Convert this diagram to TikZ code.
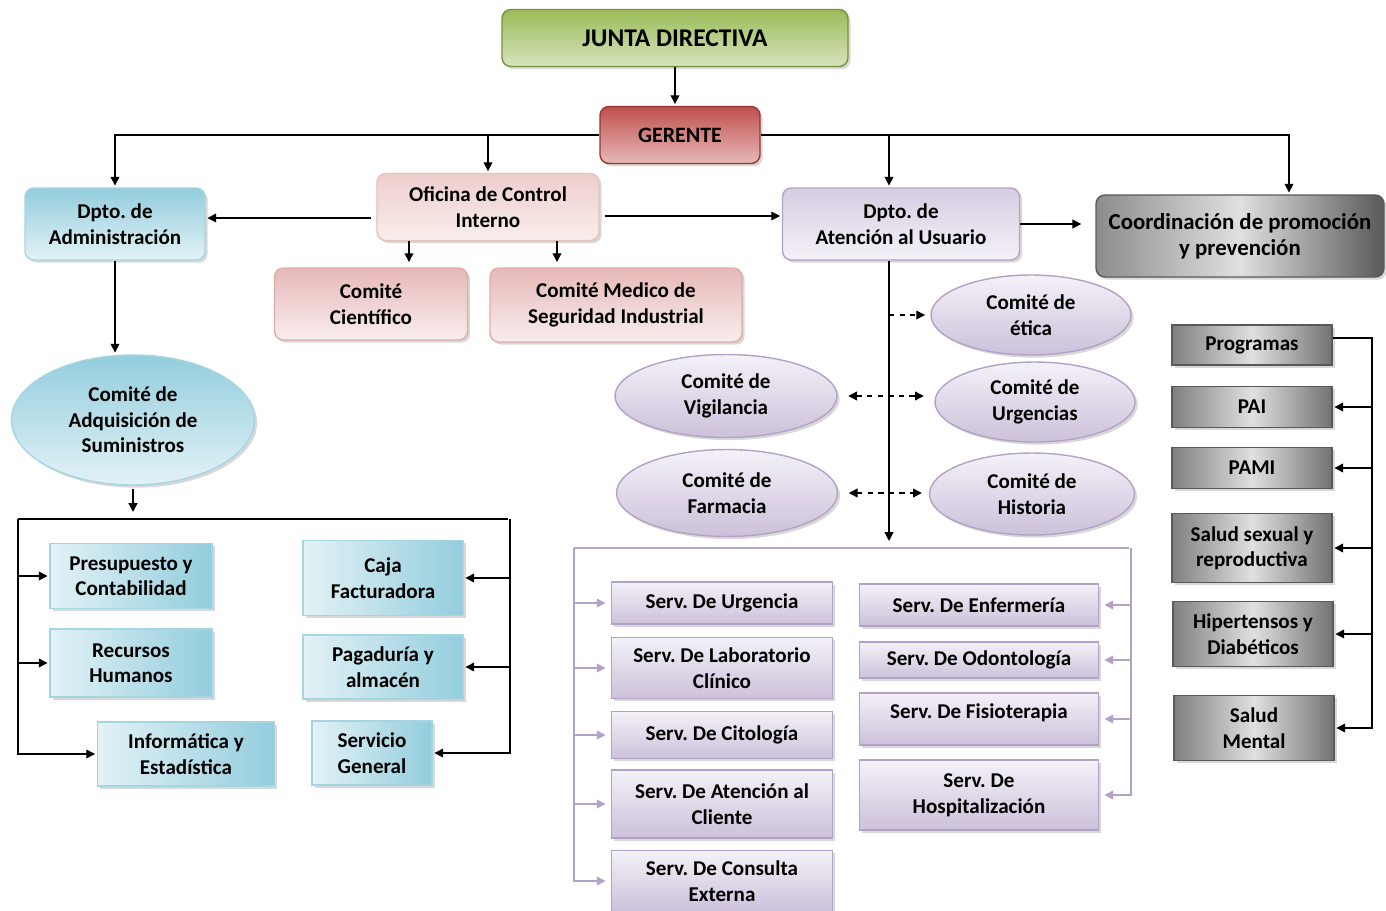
\documentclass[tikz,border=0pt]{standalone}
\usepackage{fontspec}
\setmainfont{Carlito}
\usepackage{xcolor}
\usetikzlibrary{arrows.meta,shadows,shapes.geometric,positioning}
\frenchspacing

\definecolor{jdDark}{HTML}{9BBB59}
\definecolor{jdLight}{HTML}{D7E4BD}
\definecolor{jdLine}{HTML}{76923C}
\definecolor{geDark}{HTML}{C0504D}
\definecolor{geLight}{HTML}{E6B9B8}
\definecolor{geLine}{HTML}{953735}
\definecolor{azDark}{HTML}{93CDDD}
\definecolor{azLight}{HTML}{E3F2F6}
\definecolor{azLine}{HTML}{A5D5E2}
\definecolor{roDark}{HTML}{E6B9B8}
\definecolor{roLight}{HTML}{F9EDED}
\definecolor{roLine}{HTML}{D99694}
\definecolor{liDark}{HTML}{CCC1DA}
\definecolor{liLight}{HTML}{F4F1F8}
\definecolor{liLine}{HTML}{B3A2C7}
\definecolor{grDark}{HTML}{7F7F7F}
\definecolor{grLight}{HTML}{E0E0E0}
\definecolor{grLine}{HTML}{595959}

\begin{document}
\begin{tikzpicture}[x=0.02cm,y=-0.02cm,line width=0.8pt,
    >={Triangle[length=5pt,width=5pt]},shorten >=1pt,
    font=\fontsize{12}{14.5}\selectfont\bfseries]
  \tikzstyle{cuadro}=[draw,align=center,inner sep=2pt,
      drop shadow={opacity=0.3,shadow xshift=1.5pt,shadow yshift=-1.5pt}]
  \tikzstyle{redondo}=[cuadro,rounded corners=5pt]
  \tikzstyle{ovalo}=[cuadro,ellipse]
  \tikzstyle{verde}=[redondo,draw=jdLine,top color=jdDark,bottom color=jdLight]
  \tikzstyle{rojo}=[redondo,draw=geLine,top color=geDark,bottom color=geLight]
  \tikzstyle{azulr}=[redondo,draw=azLine,top color=azDark,bottom color=azLight]
  \tikzstyle{azul}=[cuadro,draw=azLine,left color=azLight,right color=azDark]
  \tikzstyle{rosa}=[redondo,draw=roLine!60,top color=roDark!70,bottom color=roLight]
  \tikzstyle{rosao}=[redondo,draw=roLine!80,top color=roDark,bottom color=roLight]
  \tikzstyle{lila}=[redondo,draw=liLine,top color=liDark!80,bottom color=liLight]
  \tikzstyle{lilao}=[ovalo,draw=liLine,top color=liLight,bottom color=liDark]
  \tikzstyle{serv}=[cuadro,draw=liLine,top color=liLight,bottom color=liDark]
  \tikzstyle{gris}=[cuadro,draw=grLine,left color=grDark,right color=grDark!90!black,middle color=grLight]
  \tikzstyle{flecha}=[->]
  \tikzstyle{lilaf}=[->,draw=liLine]

  \path[use as bounding box,fill=white] (0,0) rectangle (1386,910);

  % direccion
  \node[verde,minimum width=6.92cm,minimum height=1.14cm,font=\fontsize{14.5}{16}\selectfont\bfseries] (junta) at (675,38) {JUNTA DIRECTIVA};
  \node[rojo,minimum width=3.2cm,minimum height=1.14cm,font=\fontsize{12.5}{14}\selectfont\bfseries] (gerente) at (680,135) {GERENTE};
  \node[azulr,minimum width=3.6cm,minimum height=1.44cm] (admin) at (115,224) {Dpto. de\\Administración};
  \node[rosa,minimum width=4.44cm,minimum height=1.34cm] (control) at (488,207) {Oficina de Control\\Interno};
  \node[lila,minimum width=4.74cm,minimum height=1.44cm] (usuario) at (901,224) {Dpto. de\\Atención al Usuario};
  \node[redondo,draw=grLine,left color=grDark!90,right color=grDark!70!black,middle color=grLight,
        minimum width=5.76cm,minimum height=1.64cm,font=\fontsize{13}{15}\selectfont\bfseries] (coord) at (1240,236) {Coordinación de promoción\\y prevención};
  \node[rosao,minimum width=3.86cm,minimum height=1.44cm] (cientifico) at (371,304) {Comité\\Científico};
  \node[rosao,minimum width=5.04cm,minimum height=1.48cm] (medico) at (616,305) {Comité Medico de\\Seguridad Industrial};

  % administracion
  \node[ovalo,draw=azLine,top color=azDark,bottom color=azLight,minimum width=4.86cm,minimum height=2.6cm] (adquis) at (133,420) {Comité de\\Adquisición de\\Suministros};
  \node[azul,minimum width=3.24cm,minimum height=1.3cm] (presup) at (131,576) {Presupuesto y\\Contabilidad};
  \node[azul,minimum width=3.24cm,minimum height=1.36cm] (rrhh) at (131,663) {Recursos\\Humanos};
  \node[azul,minimum width=3.54cm,minimum height=1.28cm] (informat) at (186,754) {Informática y\\Estadística};
  \node[azul,minimum width=3.2cm,minimum height=1.5cm] (caja) at (383,578) {Caja\\Facturadora};
  \node[azul,minimum width=3.2cm,minimum height=1.28cm] (pagad) at (383,667) {Pagaduría y\\almacén};
  \node[azul,minimum width=2.4cm,minimum height=1.28cm] (servgen) at (372,753) {Servicio\\General};

  % comites
  \node[lilao,minimum width=4cm,minimum height=1.6cm] (etica) at (1031,315) {Comité de\\ética};
  \node[lilao,minimum width=4.44cm,minimum height=1.66cm] (vigil) at (726,396) {Comité de\\Vigilancia};
  \node[lilao,minimum width=4cm,minimum height=1.6cm] (urgc) at (1035,402) {Comité de\\Urgencias};
  \node[lilao,minimum width=4.42cm,minimum height=1.74cm] (farm) at (727,493) {Comité de\\Farmacia};
  \node[lilao,minimum width=4.1cm,minimum height=1.64cm] (hist) at (1032,494) {Comité de\\Historia};

  % servicios
  \node[serv,minimum width=4.42cm,minimum height=0.84cm] (sUrg) at (722,603) {Serv. De Urgencia};
  \node[serv,minimum width=4.42cm,minimum height=1.22cm] (sLab) at (722,668) {Serv. De Laboratorio\\Clínico};
  \node[serv,minimum width=4.42cm,minimum height=0.94cm] (sCito) at (722,735) {Serv. De Citología};
  \node[serv,minimum width=4.42cm,minimum height=1.36cm] (sAten) at (722,804) {Serv. De Atención al\\Cliente};
  \node[serv,minimum width=4.42cm,minimum height=1.22cm] (sCons) at (722,881) {Serv. De Consulta\\Externa};
  \node[serv,minimum width=4.78cm,minimum height=0.84cm] (sEnf) at (979,605) {Serv. De Enfermería};
  \node[serv,minimum width=4.78cm,minimum height=0.72cm] (sOdon) at (979,660) {Serv. De Odontología};
  \node[serv,minimum width=4.78cm,minimum height=1.04cm,text depth=0.3cm] (sFisio) at (979,719) {Serv. De Fisioterapia};
  \node[serv,minimum width=4.78cm,minimum height=1.4cm] (sHosp) at (979,795) {Serv. De\\Hospitalización};

  % programas
  \node[gris,minimum width=3.2cm,minimum height=0.8cm] (prog) at (1252,345) {Programas};
  \node[gris,minimum width=3.2cm,minimum height=0.82cm] (pai) at (1252,407) {PAI};
  \node[gris,minimum width=3.2cm,minimum height=0.82cm] (pami) at (1252,468) {PAMI};
  \node[gris,minimum width=3.2cm,minimum height=1.38cm] (sexual) at (1252,548) {Salud sexual y\\reproductiva};
  \node[gris,minimum width=3.2cm,minimum height=1.3cm] (hiper) at (1253,634) {Hipertensos y\\Diabéticos};
  \node[gris,minimum width=3.2cm,minimum height=1.3cm] (mental) at (1254,728) {Salud\\Mental};

  \coordinate (aTL) at (18,519);
  \coordinate (aTR) at (510,519);
  \coordinate (sTL) at (574,548);
  \coordinate (sTR) at (1131,548);
  \coordinate (pR) at (1372,338);
  \coordinate (uAx) at ([xshift=-0.24cm]usuario.south);

  % conexiones
  \draw[flecha] (junta) -- (junta |- gerente.north);
  \draw[flecha] (gerente.west) -| (admin.north);
  \draw[flecha] (control.north |- gerente.west) -- (control.north);
  \draw[flecha] (gerente.east) -| ([xshift=0.98cm]coord.north);
  \draw[flecha] (uAx |- gerente.east) -- (uAx |- usuario.north);
  \draw[flecha] ([xshift=-3pt,yshift=-0.22cm]control.west) -- ([yshift=-0.22cm]control.west -| admin.east);
  \draw[flecha] ([xshift=3pt,yshift=-0.18cm]control.east) -- ([yshift=-0.18cm]control.east -| usuario.west);
  \draw[flecha,shorten >=8pt] (usuario.east) -- (usuario.east -| coord.west);
  \draw[flecha,shorten >=3pt] ([xshift=0.76cm]cientifico.north |- control.south) -- ([xshift=0.76cm]cientifico.north);
  \draw[flecha,shorten >=3pt] ([xshift=-1.18cm]medico.north |- control.south) -- ([xshift=-1.18cm]medico.north);

  \draw[flecha] (admin.south) -- (admin.south |- adquis.north);
  \draw[flecha,shorten <=2pt,shorten >=4pt] (adquis.south) -- (adquis.south |- aTL);
  \draw (aTL) -- (aTR);
  \draw[flecha] (aTL) |- (informat.west);
  \draw[flecha] (aTR) |- (servgen.east);
  \foreach \n in {presup,rrhh} \draw[flecha] (aTL |- \n.west) -- (\n.west);
  \foreach \n in {caja,pagad} \draw[flecha] (aTR |- \n.east) -- (\n.east);

  \draw[flecha,shorten >=4pt] (uAx) -- (uAx |- sTL);
  \draw[flecha,dashed,shorten >=3pt] (uAx |- etica.west) -- (etica.west);
  \draw[<->,dashed,shorten <=6pt,shorten >=6pt] (vigil.east) -- (vigil.east -| urgc.west);
  \draw[<->,dashed,shorten <=6pt,shorten >=4pt] (farm.east) -- (farm.east -| hist.west);

  \draw[liLine] (sTL) -- (sTR);
  \draw[lilaf,shorten >=3pt] (sTL) |- (sCons.west);
  \draw[lilaf,shorten >=3pt] (sTR) |- (sHosp.east);
  \foreach \n in {sUrg,sLab,sCito,sAten} \draw[lilaf,shorten >=3pt] (sTL |- \n.west) -- (\n.west);
  \foreach \n in {sEnf,sOdon,sFisio} \draw[lilaf,shorten >=3pt] (sTR |- \n.east) -- (\n.east);

  \draw[flecha] (prog.east |- pR) -- (pR) |- (mental.east);
  \foreach \n in {pai,pami,sexual,hiper} \draw[flecha] (pR |- \n.east) -- (\n.east);
\end{tikzpicture}
\end{document}
